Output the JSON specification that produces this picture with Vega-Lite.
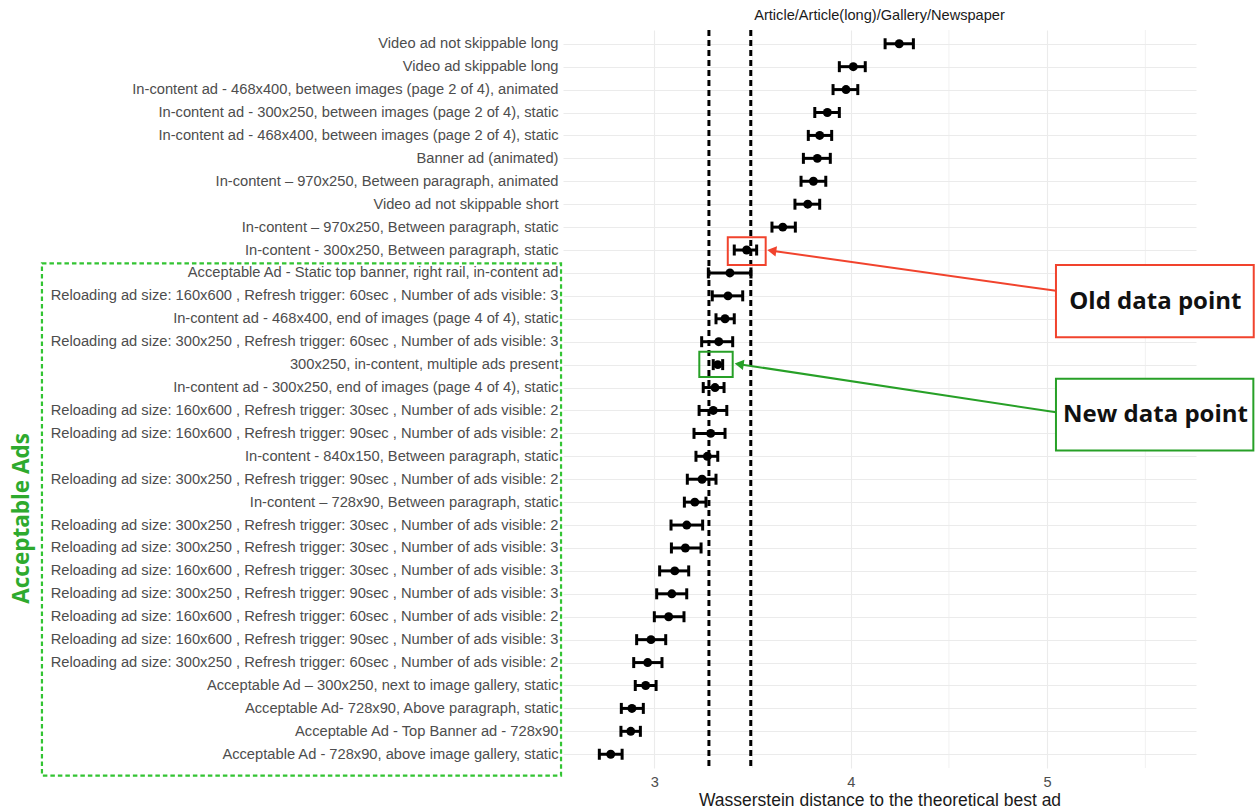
{
  "$schema": "https://vega.github.io/schema/vega-lite/v6.json",
  "autosize": {"type": "none"},
  "padding": {"left": 563, "top": 30, "right": 62, "bottom": 41},
  "width": 633,
  "height": 738,
  "background": "white",
  "config": {
    "view": {"stroke": null},
    "font": "Liberation Sans"
  },
  "title": {
    "text": "Article/Article(long)/Gallery/Newspaper",
    "frame": "group",
    "anchor": "middle",
    "fontSize": 14.6,
    "fontWeight": "normal",
    "color": "#1a1a1a",
    "font": "Liberation Sans",
    "offset": 6
  },
  "datasets": {
    "ads": [
      {"ad": "Video ad not skippable long", "distance": 4.247, "lo": 4.175, "hi": 4.319},
      {"ad": "Video ad skippable long", "distance": 4.013, "lo": 3.942, "hi": 4.074},
      {"ad": "In-content ad - 468x400, between images (page 2 of 4), animated", "distance": 3.976, "lo": 3.910, "hi": 4.036},
      {"ad": "In-content ad - 300x250, between images (page 2 of 4), static", "distance": 3.881, "lo": 3.817, "hi": 3.942},
      {"ad": "In-content ad - 468x400, between images (page 2 of 4), static", "distance": 3.842, "lo": 3.784, "hi": 3.903},
      {"ad": "Banner ad (animated)", "distance": 3.830, "lo": 3.759, "hi": 3.896},
      {"ad": "In-content – 970x250, Between paragraph, animated", "distance": 3.810, "lo": 3.747, "hi": 3.873},
      {"ad": "Video ad not skippable short", "distance": 3.781, "lo": 3.716, "hi": 3.842},
      {"ad": "In-content – 970x250, Between paragraph, static", "distance": 3.654, "lo": 3.599, "hi": 3.718},
      {"ad": "In-content - 300x250, Between paragraph, static", "distance": 3.470, "lo": 3.407, "hi": 3.521},
      {"ad": "Acceptable Ad - Static top banner, right rail, in-content ad", "distance": 3.385, "lo": 3.275, "hi": 3.492},
      {"ad": "Reloading ad size: 160x600 , Refresh trigger: 60sec , Number of ads visible: 3", "distance": 3.375, "lo": 3.295, "hi": 3.450},
      {"ad": "In-content ad - 468x400, end of images (page 4 of 4), static", "distance": 3.360, "lo": 3.314, "hi": 3.407},
      {"ad": "Reloading ad size: 300x250 , Refresh trigger: 60sec , Number of ads visible: 3", "distance": 3.328, "lo": 3.241, "hi": 3.399},
      {"ad": "300x250, in-content, multiple ads present", "distance": 3.323, "lo": 3.300, "hi": 3.348},
      {"ad": "In-content ad - 300x250, end of images (page 4 of 4), static", "distance": 3.309, "lo": 3.249, "hi": 3.355},
      {"ad": "Reloading ad size: 160x600 , Refresh trigger: 30sec , Number of ads visible: 2", "distance": 3.300, "lo": 3.228, "hi": 3.369},
      {"ad": "Reloading ad size: 160x600 , Refresh trigger: 90sec , Number of ads visible: 2", "distance": 3.287, "lo": 3.202, "hi": 3.360},
      {"ad": "In-content - 840x150, Between paragraph, static", "distance": 3.270, "lo": 3.212, "hi": 3.323},
      {"ad": "Reloading ad size: 300x250 , Refresh trigger: 90sec , Number of ads visible: 2", "distance": 3.243, "lo": 3.168, "hi": 3.314},
      {"ad": "In-content – 728x90, Between paragraph, static", "distance": 3.206, "lo": 3.153, "hi": 3.263},
      {"ad": "Reloading ad size: 300x250 , Refresh trigger: 30sec , Number of ads visible: 2", "distance": 3.165, "lo": 3.085, "hi": 3.246},
      {"ad": "Reloading ad size: 300x250 , Refresh trigger: 30sec , Number of ads visible: 3", "distance": 3.158, "lo": 3.087, "hi": 3.238},
      {"ad": "Reloading ad size: 160x600 , Refresh trigger: 30sec , Number of ads visible: 3", "distance": 3.104, "lo": 3.027, "hi": 3.175},
      {"ad": "Reloading ad size: 300x250 , Refresh trigger: 90sec , Number of ads visible: 3", "distance": 3.089, "lo": 3.012, "hi": 3.165},
      {"ad": "Reloading ad size: 160x600 , Refresh trigger: 60sec , Number of ads visible: 2", "distance": 3.073, "lo": 3.000, "hi": 3.151},
      {"ad": "Reloading ad size: 160x600 , Refresh trigger: 90sec , Number of ads visible: 3", "distance": 2.983, "lo": 2.910, "hi": 3.058},
      {"ad": "Reloading ad size: 300x250 , Refresh trigger: 60sec , Number of ads visible: 2", "distance": 2.966, "lo": 2.895, "hi": 3.039},
      {"ad": "Acceptable Ad – 300x250, next to image gallery, static", "distance": 2.956, "lo": 2.903, "hi": 3.009},
      {"ad": "Acceptable Ad- 728x90, Above paragraph, static", "distance": 2.886, "lo": 2.832, "hi": 2.944},
      {"ad": "Acceptable Ad - Top Banner ad - 728x90", "distance": 2.880, "lo": 2.830, "hi": 2.929},
      {"ad": "Acceptable Ad - 728x90, above image gallery, static", "distance": 2.778, "lo": 2.720, "hi": 2.836}
    ],
    "thresholds": [{"value": 3.278}, {"value": 3.491}],
    "minorGrid": [{"value": 3.5}, {"value": 4.5}, {"value": 5.5}],
    "callouts": [
      {"kind": "old", "label": "Old data point",
       "bx1": 3.374, "bx2": 3.567, "br1": 8.445, "br2": 9.655,
       "lx1": 5.045, "lx2": 6.052, "lr1": 9.655, "lr2": 12.81,
       "ax": 5.045, "ar": 10.78, "tipx": 3.598, "tipr": 9.03,
       "tx": 5.551, "tr": 11.26},
      {"kind": "new", "label": "New data point",
       "bx1": 3.229, "bx2": 3.399, "br1": 13.44, "br2": 14.535,
       "lx1": 5.045, "lx2": 6.05, "lr1": 14.62, "lr2": 17.75,
       "ax": 5.045, "ar": 16.08, "tipx": 3.432, "tipr": 13.98,
       "tx": 5.552, "tr": 16.21}
    ],
    "groups": [
      {"label": "Acceptable Ads", "x1": -0.118, "x2": 2.525, "r1": 9.58, "r2": 31.93, "tx": -0.22, "tr": 20.71}
    ]
  },
  "layer": [
    {
      "layer": [
        {
          "data": {"name": "minorGrid"},
          "mark": {"type": "rule", "color": "#ebebeb", "strokeWidth": 0.7},
          "encoding": {
            "x": {"field": "value", "type": "quantitative"}
          }
        },
        {
          "data": {"name": "thresholds"},
          "mark": {"type": "rule", "color": "black", "strokeWidth": 3, "strokeDash": [6, 4]},
          "encoding": {
            "x": {"field": "value", "type": "quantitative"}
          }
        },
        {
          "data": {"name": "ads"},
          "layer": [
            {
              "mark": {"type": "rule", "color": "black", "strokeWidth": 3},
              "encoding": {
                "x": {"field": "lo", "type": "quantitative"},
                "x2": {"field": "hi"}
              }
            },
            {
              "mark": {"type": "tick", "color": "black", "size": 11, "thickness": 3, "opacity": 1},
              "encoding": {"x": {"field": "lo", "type": "quantitative"}}
            },
            {
              "mark": {"type": "tick", "color": "black", "size": 11, "thickness": 3, "opacity": 1},
              "encoding": {"x": {"field": "hi", "type": "quantitative"}}
            },
            {
              "mark": {"type": "circle", "color": "black", "size": 80, "opacity": 1},
              "encoding": {"x": {"field": "distance", "type": "quantitative"}}
            }
          ],
          "encoding": {
            "y": {
              "field": "ad", "type": "nominal", "sort": null,
              "scale": {"type": "point", "padding": 0.6},
              "axis": {
                "title": null, "labelFontSize": 14.7, "labelColor": "#4d4d4d",
                "labelFont": "Liberation Sans", "ticks": false, "domain": false,
                "labelPadding": 5, "labelLimit": 800,
                "grid": true, "gridColor": "#ebebeb", "gridWidth": 1.1
              }
            }
          }
        }
      ],
      "encoding": {
        "x": {
          "type": "quantitative",
          "scale": {"domain": [2.535, 5.758], "nice": false, "zero": false},
          "axis": {
            "values": [3, 4, 5], "title": "Wasserstein distance to the theoretical best ad",
            "titleFontSize": 17.5, "titleColor": "#1a1a1a", "titleFontWeight": "normal",
            "titleFont": "Liberation Sans", "titlePadding": 3,
            "labelFontSize": 14.6, "labelColor": "#4d4d4d", "labelPadding": 6,
            "ticks": false, "domain": false, "grid": true, "gridColor": "#ebebeb", "gridWidth": 1.1
          }
        }
      }
    },
    {
      "layer": [
        {
          "data": {"name": "groups"},
          "mark": {"type": "rect", "fill": null, "fillOpacity": 0, "stroke": "#33c433", "strokeWidth": 2.2, "strokeDash": [4.5, 3]},
          "encoding": {
            "x": {"field": "x1", "type": "quantitative"},
            "x2": {"field": "x2"},
            "y": {"field": "r1", "type": "quantitative"},
            "y2": {"field": "r2"}
          }
        },
        {
          "data": {"name": "groups"},
          "mark": {"type": "text", "angle": 270, "font": "Open Sans", "fontWeight": "bold", "fontSize": 22.5, "color": "#2eaa2e", "align": "center", "baseline": "middle"},
          "encoding": {
            "x": {"field": "tx", "type": "quantitative"},
            "y": {"field": "tr", "type": "quantitative"},
            "text": {"field": "label"}
          }
        },
        {
          "data": {"name": "callouts"},
          "mark": {"type": "rect", "fill": null, "fillOpacity": 0, "strokeWidth": 2},
          "encoding": {
            "x": {"field": "bx1", "type": "quantitative"},
            "x2": {"field": "bx2"},
            "y": {"field": "br1", "type": "quantitative"},
            "y2": {"field": "br2"},
            "stroke": {"field": "kind", "type": "nominal", "scale": {"domain": ["old", "new"], "range": ["#f1432d", "#27a027"]}, "legend": null}
          }
        },
        {
          "data": {"name": "callouts"},
          "mark": {"type": "rect", "fill": "white", "strokeWidth": 2},
          "encoding": {
            "x": {"field": "lx1", "type": "quantitative"},
            "x2": {"field": "lx2"},
            "y": {"field": "lr1", "type": "quantitative"},
            "y2": {"field": "lr2"},
            "stroke": {"field": "kind", "type": "nominal", "legend": null}
          }
        },
        {
          "data": {"name": "callouts"},
          "mark": {"type": "rule", "strokeWidth": 2},
          "encoding": {
            "x": {"field": "ax", "type": "quantitative"},
            "x2": {"field": "tipx"},
            "y": {"field": "ar", "type": "quantitative"},
            "y2": {"field": "tipr"},
            "stroke": {"field": "kind", "type": "nominal", "legend": null}
          }
        },
        {
          "data": {"name": "callouts"},
          "mark": {"type": "point", "shape": "triangle-left", "filled": true, "size": 110, "angle": 8.3, "opacity": 1},
          "encoding": {
            "x": {"field": "tipx", "type": "quantitative"},
            "y": {"field": "tipr", "type": "quantitative"},
            "fill": {"field": "kind", "type": "nominal", "scale": {"domain": ["old", "new"], "range": ["#f1432d", "#27a027"]}, "legend": null}
          }
        },
        {
          "data": {"name": "callouts"},
          "mark": {"type": "text", "font": "Open Sans", "fontWeight": "bold", "fontSize": 24, "color": "#111111", "align": "center", "baseline": "middle"},
          "encoding": {
            "x": {"field": "tx", "type": "quantitative"},
            "y": {"field": "tr", "type": "quantitative"},
            "text": {"field": "label"}
          }
        }
      ],
      "encoding": {
        "x": {"type": "quantitative", "axis": null},
        "y": {"type": "quantitative", "scale": {"domain": [-0.6, 31.6], "reverse": true, "nice": false, "zero": false}, "axis": null}
      }
    }
  ],
  "resolve": {"scale": {"y": "independent"}, "axis": {"x": "independent"}}
}
